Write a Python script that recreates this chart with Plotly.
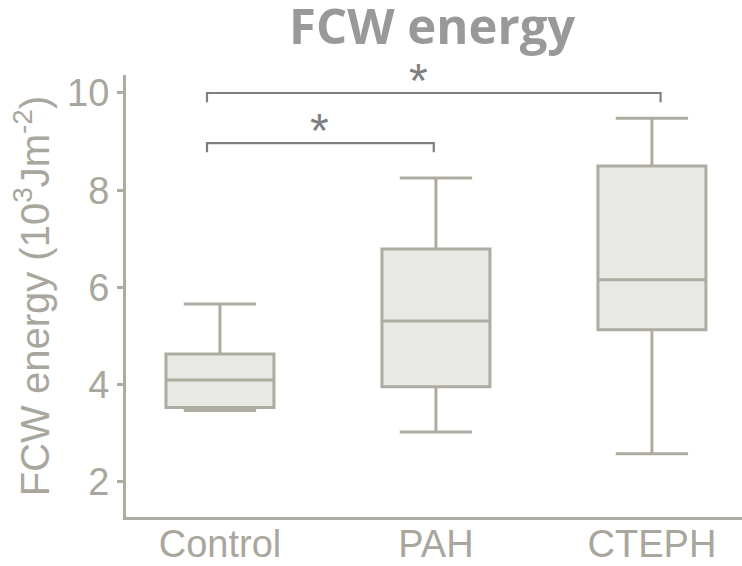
import plotly.graph_objects as go

# Group summary statistics (10^3 J m^-2)
groups = ["Control", "PAH", "CTEPH"]
lower_whisker = [3.47, 3.03, 2.58]
q1 = [3.53, 3.96, 5.13]
median = [4.10, 5.31, 6.16]
q3 = [4.63, 6.79, 8.50]
upper_whisker = [5.66, 8.25, 9.48]

# Significance brackets: (left x, right x, bar height, star x, star label)
brackets = [
    (-0.06, 0.99, 8.97, 0.46, "*"),
    (-0.06, 2.04, 10.0, 0.92, "*"),
]

line_col = "#aeaba1"
fill_col = "#e8e9e5"
text_col = "#a9a79d"
bracket_col = "#7f7f7f"

fig = go.Figure()
fig.add_trace(go.Box(
    x=groups,
    q1=q1, median=median, q3=q3,
    lowerfence=lower_whisker, upperfence=upper_whisker,
    width=0.5,
    fillcolor=fill_col,
    line=dict(color=line_col, width=3),
    whiskerwidth=0.67,
    boxpoints=False,
    showlegend=False,
    hoverinfo="skip",
))

shapes = []
annotations = []
for x0, x1, h, sx, label in brackets:
    drop = 0.19
    shapes.append(dict(
        type="path", xref="x", yref="y",
        path=f"M {x0},{h - drop} L {x0},{h} L {x1},{h} L {x1},{h - drop}",
        line=dict(color=bracket_col, width=2.2),
    ))
    annotations.append(dict(
        x=sx, y=h, xref="x", yref="y",
        text=label, showarrow=False, yanchor="bottom", yshift=-16,
        font=dict(family="Liberation Sans", size=48, color=bracket_col),
    ))

fig.update_layout(
    width=742, height=566,
    margin=dict(l=126, r=0, t=75, b=49),
    paper_bgcolor="white", plot_bgcolor="white",
    shapes=shapes, annotations=annotations,
    font=dict(family="Liberation Sans", color=text_col),
    title=dict(
        text="<b>FCW energy</b>", x=0.497, xref="paper",
        y=0.952, yref="container", yanchor="middle",
        font=dict(family="Open Sans", size=49, color="#999999"),
    ),
)
fig.update_xaxes(
    type="category", range=[-0.435, 2.417],
    showline=True, linecolor=line_col, linewidth=3,
    ticks="", showgrid=False, zeroline=False, automargin=False,
    ticklabelstandoff=-9,
    tickfont=dict(size=38, color=text_col),
)
fig.update_yaxes(
    range=[1.28, 10.37],
    tickvals=[2, 4, 6, 8, 10],
    showline=True, linecolor=line_col, linewidth=3,
    ticks="outside", ticklen=6, tickwidth=3, tickcolor=line_col,
    showgrid=False, zeroline=False, automargin=False,
    tickfont=dict(size=38, color=text_col),
    title=dict(text="FCW energy (10<sup>3</sup>Jm<sup>-2</sup>)",
               font=dict(size=40, color=text_col), standoff=6),
)

fig.write_html("out.html")
